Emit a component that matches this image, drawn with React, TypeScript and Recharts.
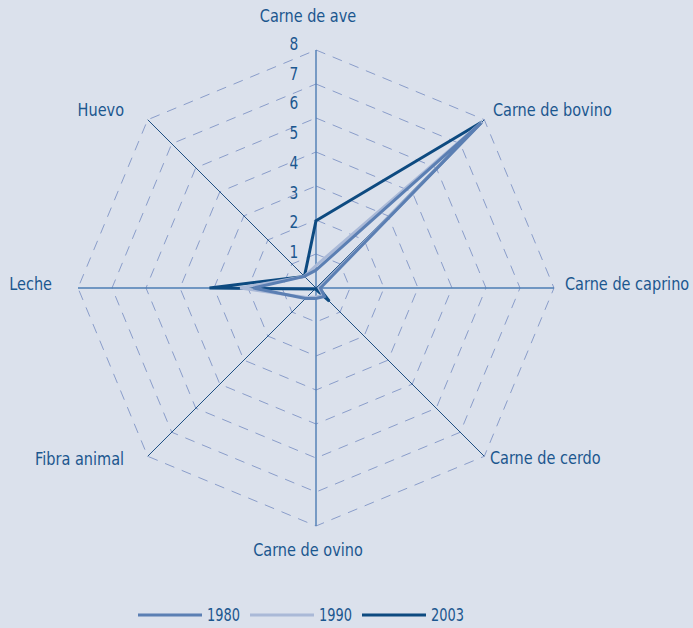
import React from "react";
import { RadarChart, Radar, PolarGrid, PolarAngleAxis, PolarRadiusAxis, Legend } from "recharts";

const categories = [
  "Carne de ave",
  "Carne de bovino",
  "Carne de caprino",
  "Carne de cerdo",
  "Carne de ovino",
  "Fibra animal",
  "Leche",
  "Huevo",
];
const values1980 = [0.6, 7.85, 0.15, 0.4, 0.35, 0.5, 2.1, 0.55];
const values1990 = [0.75, 7.9, 0.1, 0.35, 0.3, 0.45, 2.55, 0.55];
const values2003 = [2.26, 7.9, 0.1, 0.63, 0.05, 0.05, 3.58, 0.55];
const seriesNames = ["1980", "1990", "2003"];
const seriesColors = ["#5b7fb3", "#aab9d7", "#0d4a80"];

const data = categories.map((c, i) => ({
  axis: c,
  y1980: values1980[i],
  y1990: values1990[i],
  y2003: values2003[i],
}));

const FONT = '"DejaVu Sans Condensed", "DejaVu Sans", sans-serif';
const TEXT = "#1b578f";
const BG = "#dbe1ec";

const CX = 316;
const CY = 288;
const R = 238;
const ringRadii = [1, 2, 3, 4, 5, 6, 7].map((k) => (R * k) / 7);
const allAngles = [90, 45, 0, -45, -90, -135, 180, 135];

const labelStyle: Record<string, { dx: number; dy: number; anchor: string }> = {
  "Carne de ave": { dx: -8, dy: -26, anchor: "middle" },
  "Carne de bovino": { dx: 3, dy: -4, anchor: "start" },
  "Carne de caprino": { dx: 3, dy: -4, anchor: "start" },
  "Carne de cerdo": { dx: 0, dy: -4, anchor: "start" },
  "Carne de ovino": { dx: -8, dy: 16, anchor: "middle" },
  "Fibra animal": { dx: -18, dy: -3, anchor: "end" },
  Leche: { dx: -18, dy: -4, anchor: "end" },
  Huevo: { dx: -18, dy: -4, anchor: "end" },
};

const AngleTick = (props: any) => {
  const { x, y, payload } = props;
  const s = labelStyle[payload.value] || { dx: 0, dy: 0, anchor: "middle" };
  return (
    <text
      transform={`translate(${x + s.dx},${y + s.dy}) scale(0.895,1)`}
      x={0}
      y={0}
      textAnchor={s.anchor}
      dominantBaseline="central"
      fill={TEXT}
      fontSize={18}
      fontFamily={FONT}
    >
      {payload.value}
    </text>
  );
};

const RadiusTick = (props: any) => {
  const { x, y, payload } = props;
  if (payload.value === 0) return <g />;
  return (
    <text
      transform={`translate(${x - 22},${y - 6}) scale(0.9,1)`}
      x={0}
      y={0}
      textAnchor="middle"
      dominantBaseline="central"
      fill={TEXT}
      fontSize={17}
      fontFamily={FONT}
    >
      {payload.value}
    </text>
  );
};

const LegendContent = () => (
  <svg width={693} height={24} style={{ display: "block" }}>
    {seriesNames.map((n, i) => {
      const x0 = 138 + i * 112;
      return (
        <g key={n}>
          <line x1={x0} x2={x0 + 64} y1={11} y2={11} stroke={seriesColors[i]} strokeWidth={3} />
          <text
            transform={`translate(${x0 + 69},11) scale(0.8,1)`}
            x={0}
            y={0}
            dominantBaseline="central"
            fill={TEXT}
            fontSize={18}
            fontFamily={FONT}
          >
            {n}
          </text>
        </g>
      );
    })}
  </svg>
);

export default function App() {
  return (
    <div style={{ position: "absolute", left: 0, top: 0, width: 693, height: 628, background: BG }}>
      <RadarChart width={693} height={628} data={data} cx={CX} cy={CY} outerRadius={R} margin={{ top: 0, right: 0, bottom: 0, left: 0 }}>
        <PolarGrid
          gridType="polygon"
          radialLines={false}
          polarRadius={ringRadii}
          polarAngles={allAngles}
          stroke="#8a9dca"
          strokeWidth={1}
          strokeDasharray="10 8"
        />
        <PolarGrid
          gridType="polygon"
          polarRadius={[]}
          polarAngles={[90, 0, -90, 180]}
          stroke="#4d7cb4"
          strokeWidth={1.4}
        />
        <PolarGrid
          gridType="polygon"
          polarRadius={[]}
          polarAngles={[45, -45, -135, 135]}
          stroke="#1f5084"
          strokeWidth={1}
        />
        <PolarAngleAxis dataKey="axis" tick={AngleTick} tickLine={false} axisLine={false} />
        <PolarRadiusAxis
          angle={90}
          domain={[0, 8]}
          tickCount={9}
          axisLine={false}
          tickLine={false}
          tick={RadiusTick}
        />
        <Radar dataKey="y2003" name="2003" stroke={seriesColors[2]} strokeWidth={3} fill="none" fillOpacity={0} dot={false} isAnimationActive={false} />
        <Radar dataKey="y1990" name="1990" stroke={seriesColors[1]} strokeWidth={3} fill="none" fillOpacity={0} dot={false} isAnimationActive={false} />
        <Radar dataKey="y1980" name="1980" stroke={seriesColors[0]} strokeWidth={3} fill="none" fillOpacity={0} dot={false} isAnimationActive={false} />
        <Legend
          content={LegendContent}
          wrapperStyle={{ position: "absolute", left: 0, top: 604, width: 693 }}
        />
      </RadarChart>
    </div>
  );
}
